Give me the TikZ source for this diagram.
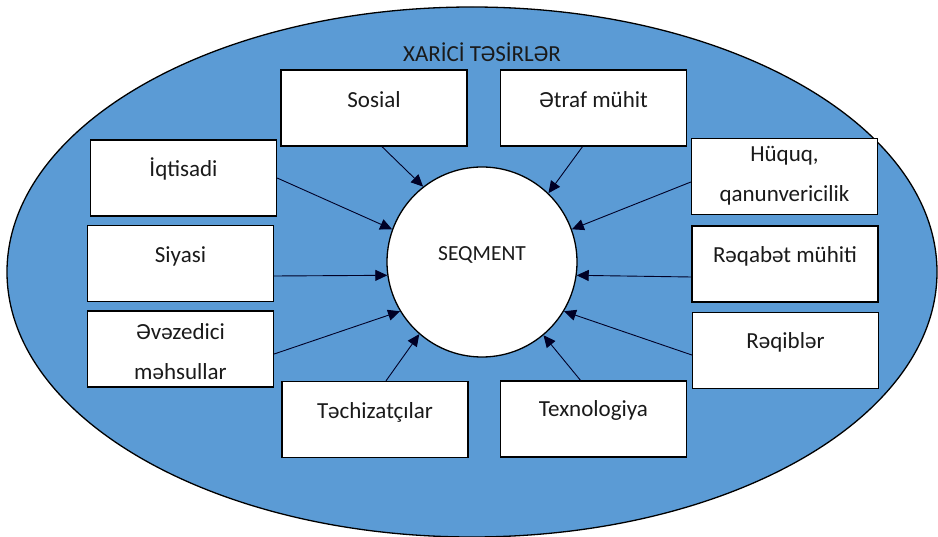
\documentclass[tikz,border=0pt]{standalone}
\usepackage{fontspec}
\setmainfont{Carlito}
\usetikzlibrary{arrows.meta}
\definecolor{ellblue}{HTML}{5B9BD5}
\definecolor{txt}{HTML}{1A1A1A}
\tikzset{
  box/.style={draw=black, line width=1.3pt, fill=white, minimum width=186pt, minimum height=76pt, inner sep=0pt},
  lbl/.style={text=txt, font=\fontsize{23}{40}\selectfont, align=center, inner sep=0pt},
  arr/.style={draw=black!85!blue, line width=0.9pt, -{Triangle[length=12pt,width=11pt]}},
}
\begin{document}
\begin{tikzpicture}[x=1pt,y=-1pt]
\useasboundingbox (0,0) rectangle (938,537);
\draw[line width=1.3pt, fill=ellblue] (472,272) ellipse [x radius=465, y radius=265];
\node[lbl] (title) at (482,52) {XARİCİ TƏSİRLƏR};
\node[circle, draw=black, line width=1.3pt, fill=white, minimum size=190pt, inner sep=0pt] (seg) at (482,262) {};
\node[lbl, font=\fontsize{21.5}{26}\selectfont] (segl) at (482,255) {SEQMENT};
% boxes
\node[box] (sos) at (374,108) {};
\node[box] (etr) at (593.5,108) {};
\node[box] (iqt) at (183.5,178) {};
\node[box] (siy) at (180.5,263.5) {};
\node[box] (eve) at (180.5,349) {};
\node[box] (tec) at (375,419.5) {};
\node[box] (tex) at (593.5,419) {};
\node[box] (huq) at (784.5,176.5) {};
\node[box] (rqb) at (785,264) {};
\node[box] (req) at (785.5,350.5) {};
% labels
\node[lbl] at (374,100) {Sosial};
\node[lbl] at (593.5,100) {Ətraf mühit};
\node[lbl] at (183.5,169) {İqtisadi};
\node[lbl] at (180.5,256) {Siyasi};
\node[lbl] at (180.5,352) {Əvəzedici\\məhsullar};
\node[lbl] at (375,412) {Təchizatçılar};
\node[lbl] at (593.5,410) {Texnologiya};
\node[lbl] at (784.5,175.5) {Hüquq,\\qanunvericilik};
\node[lbl] at (785,256) {Rəqabət mühiti};
\node[lbl] at (785.5,342) {Rəqiblər};
% arrows
\draw[arr] ([xshift=8pt]sos.south) -- (seg.128);
\draw[arr] ([xshift=-11pt]etr.south) -- (seg.46);
\draw[arr] (iqt.east) -- (seg.160);
\draw[arr] ([yshift=-12.5pt]siy.east) -- (seg.188);
\draw[arr] ([yshift=-5pt]eve.east) -- (seg.211);
\draw[arr] ([xshift=11pt]tec.north) -- (seg.229);
\draw[arr] ([xshift=-13pt]tex.north) -- (seg.-50);
\draw[arr] ([yshift=-5.5pt]huq.west) -- (seg.20);
\draw[arr] ([yshift=-13pt]rqb.west) -- (seg.-8);
\draw[arr] ([yshift=-4.5pt]req.west) -- (seg.-31);
\end{tikzpicture}
\end{document}
